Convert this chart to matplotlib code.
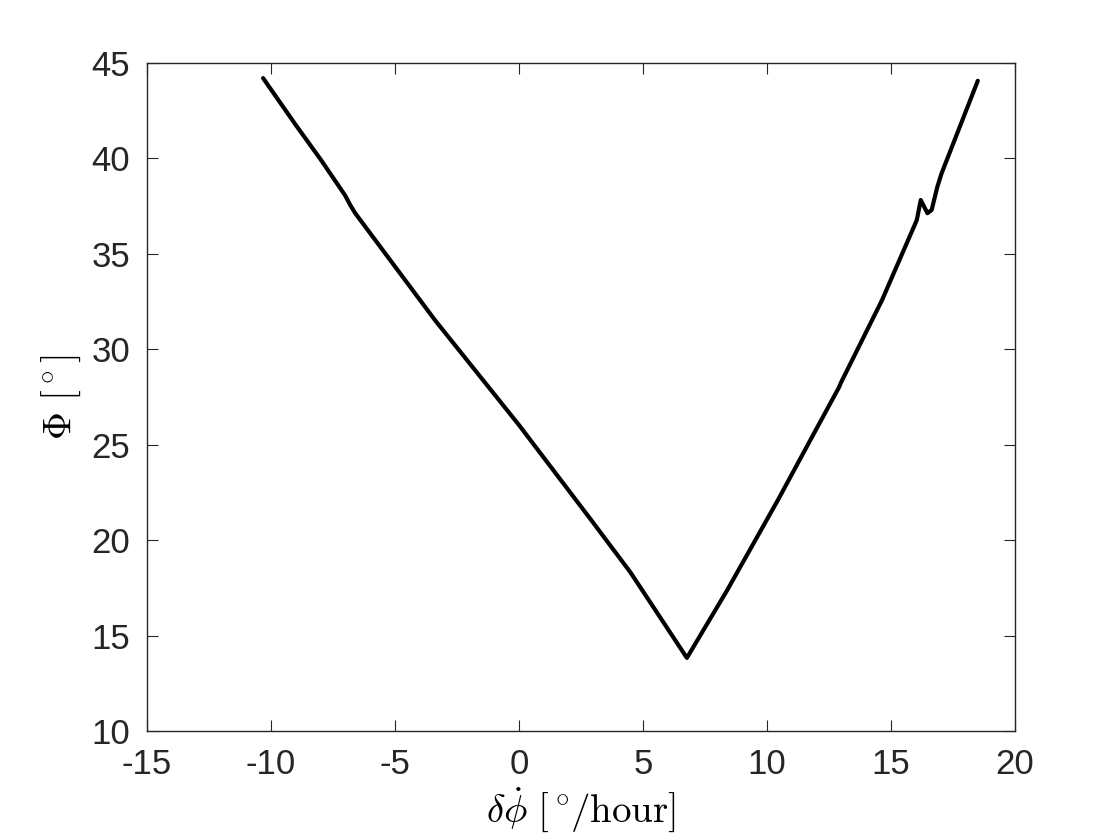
import matplotlib
matplotlib.use("Agg")
import matplotlib.pyplot as plt

# Data (delta phi-dot [deg/hour], Phi [deg])
dphidot = [-10.32, -9.0, -8.0, -7.02, -6.80, -6.61, -3.39, 0.0,
           2.86, 4.5, 6.77,
           8.40, 10.44, 11.73, 12.90, 13.0, 14.64, 16.04, 16.20,
           16.47, 16.64, 16.87, 17.04, 18.50]
Phi = [44.21, 41.75, 39.95, 38.08, 37.55, 37.14, 31.53, 26.03,
       21.14, 18.30, 13.83,
       17.39, 22.10, 25.20, 28.0, 28.3, 32.58, 36.77, 37.82,
       37.13, 37.30, 38.52, 39.22, 44.07]

xticks = [-15, -10, -5, 0, 5, 10, 15, 20]
yticks = [10, 15, 20, 25, 30, 35, 40, 45]

plt.rcParams['mathtext.fontset'] = 'cm'
fig = plt.figure(figsize=(11.2, 8.4), dpi=100)
ax = fig.add_axes([147/1120, 1-731/840, 868/1120, 668/840])
ax.plot(dphidot, Phi, color='black', linewidth=3.0, solid_joinstyle='round',
        solid_capstyle='round')
ax.set_xlim(-15, 20)
ax.set_ylim(10, 45)
ax.set_xticks(xticks)
ax.set_yticks(yticks)
ax.set_xticklabels([str(t) for t in xticks], family='Liberation Sans', fontsize=25, color='#262626')
ax.set_yticklabels([str(t) for t in yticks], family='Liberation Sans', fontsize=25, color='#262626')
ax.tick_params(axis='x', pad=12)
ax.tick_params(axis='y', pad=12)
ax.tick_params(direction='in', length=8, width=0.8, top=True, right=True, color='#262626')
for s in ax.spines.values():
    s.set_color('#262626')
    s.set_linewidth(1.0)
ax.set_xlabel(r'$\delta\dot{\phi}\ [^\circ\!/\mathrm{hour}]$', fontsize=28, labelpad=4)
ax.set_ylabel(r'$\Phi\ [^\circ]$', fontsize=28, labelpad=6)
fig.savefig('out.png', dpi=100)
